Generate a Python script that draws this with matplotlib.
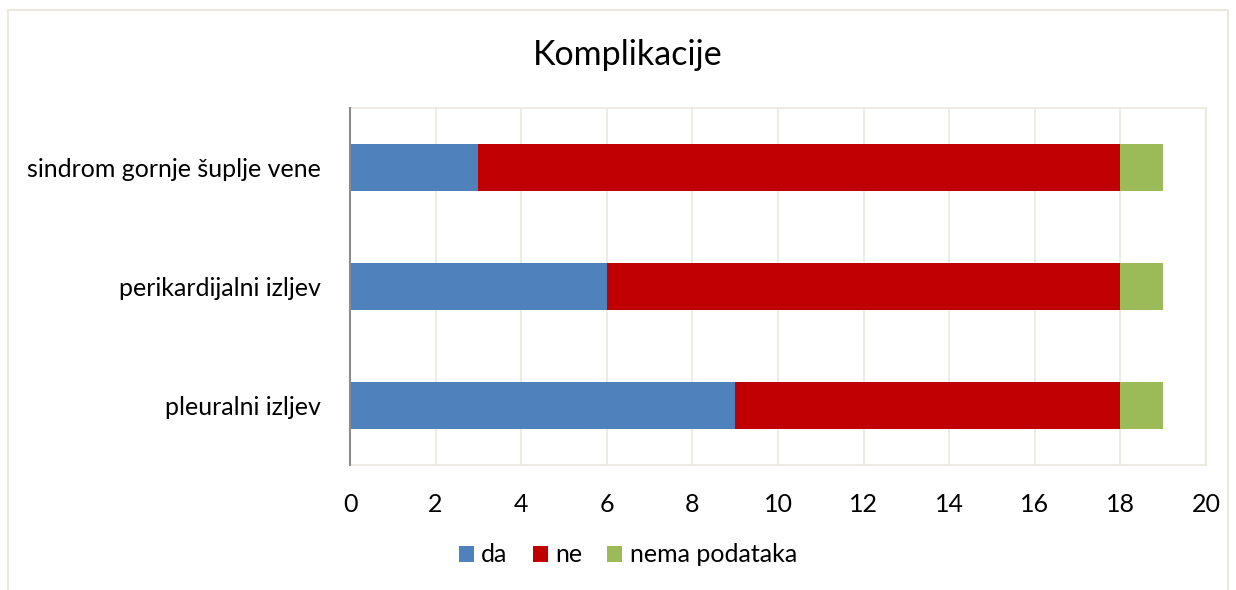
import matplotlib.pyplot as plt
import numpy as np

categories = ['pleuralni izljev', 'perikardijalni izljev', 'sindrom gornje šuplje vene']
da = [9, 6, 3]
ne = [9, 12, 15]
nema = [1, 1, 1]

plt.rcParams['font.family'] = ['Lato', 'DejaVu Sans']

fig = plt.figure(figsize=(12.36, 5.90), dpi=100)
ax = fig.add_axes([350 / 1236, 1 - 465 / 590, 856 / 1236, 357 / 590])

y = np.arange(len(categories))
h = 0.395
ax.barh(y, da, height=h, color='#4f81bd', label='da', zorder=3)
ax.barh(y, ne, left=da, height=h, color='#c00000', label='ne', zorder=3)
left2 = np.array(da) + np.array(ne)
ax.barh(y, nema, left=left2, height=h, color='#9bbb59', label='nema podataka', zorder=3)

ax.set_xlim(0, 20)
ax.set_ylim(-0.5, 2.5)
ax.set_xticks(range(0, 21, 2))
ax.set_yticks(y)
ax.set_yticklabels(categories)
ax.tick_params(axis='both', length=0, labelsize=18, colors='black')
ax.tick_params(axis='x', pad=20)
ax.tick_params(axis='y', pad=21)
ax.grid(axis='x', color='#ebe8de', linewidth=1.2, zorder=0)

for s in ['top', 'right', 'bottom']:
    ax.spines[s].set_color('#ebe8de')
    ax.spines[s].set_linewidth(1.2)
ax.spines['left'].set_color('#8c8c8c')
ax.spines['left'].set_linewidth(1.5)
ax.spines['left'].set_zorder(4)

fig.text(628 / 1236, 1 - 55 / 590, 'Komplikacije', ha='center', va='center', fontsize=24.5)

fig.legend(loc='center', bbox_to_anchor=(628 / 1236, 1 - 555 / 590), ncol=3, frameon=False,
           fontsize=18, handlelength=0.6, handleheight=0.6, handletextpad=0.3,
           columnspacing=1.0)

# outer chart frame
fig.patches.append(plt.Rectangle((8 / 1236, -0.1), 1220 / 1236, 1 - 10 / 590 + 0.1,
                                 transform=fig.transFigure, fill=False,
                                 edgecolor='#ebe8de', linewidth=1.5))

fig.savefig('out.png', dpi=100)
